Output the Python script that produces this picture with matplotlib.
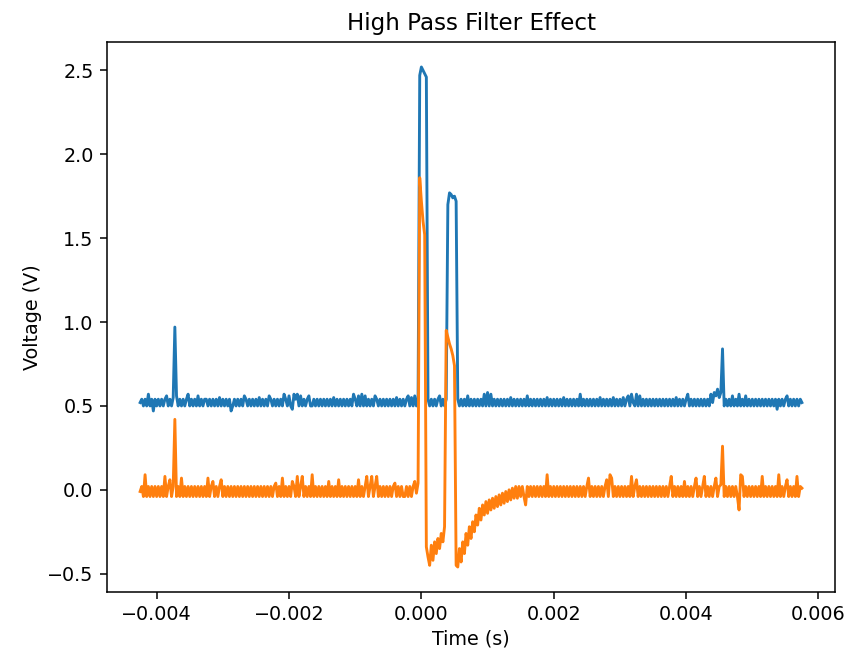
#!/usr/bin/env python3
# High pass filter effect: scope capture of input (blue) and filtered
# output (orange), both sampled every 25 us.

import matplotlib
matplotlib.use("Agg")
from matplotlib import pyplot as plt
import numpy as np

# sample clock of the capture
T_START = -0.00425
T_STEP = 0.000025

# input signal (V), one value per sample
INPUT_V = [
    0.52, 0.54, 0.50, 0.54, 0.50, 0.57, 0.50, 0.54, 0.47, 0.54, 0.50, 0.54, 0.50, 0.54, 0.50, 0.54, 0.56, 0.50, 0.54, 0.50,
    0.55, 0.97, 0.56, 0.50, 0.54, 0.50, 0.54, 0.50, 0.54, 0.57, 0.50, 0.54, 0.50, 0.54, 0.50, 0.56, 0.50, 0.54, 0.50, 0.54,
    0.54, 0.50, 0.54, 0.50, 0.54, 0.50, 0.54, 0.50, 0.55, 0.50, 0.54, 0.50, 0.54, 0.50, 0.54, 0.47, 0.50, 0.54, 0.50, 0.54,
    0.50, 0.54, 0.50, 0.56, 0.54, 0.50, 0.54, 0.50, 0.54, 0.50, 0.54, 0.50, 0.55, 0.50, 0.54, 0.50, 0.54, 0.50, 0.56, 0.54,
    0.50, 0.54, 0.50, 0.54, 0.50, 0.54, 0.50, 0.57, 0.54, 0.50, 0.56, 0.50, 0.48, 0.57, 0.54, 0.57, 0.50, 0.56, 0.50, 0.54,
    0.50, 0.54, 0.56, 0.50, 0.50, 0.54, 0.50, 0.54, 0.50, 0.54, 0.50, 0.54, 0.50, 0.54, 0.50, 0.54, 0.50, 0.55, 0.50, 0.54,
    0.50, 0.54, 0.50, 0.54, 0.50, 0.54, 0.50, 0.54, 0.50, 0.57, 0.54, 0.50, 0.56, 0.50, 0.57, 0.50, 0.56, 0.50, 0.54, 0.50,
    0.54, 0.50, 0.56, 0.54, 0.50, 0.54, 0.50, 0.54, 0.50, 0.54, 0.50, 0.54, 0.50, 0.54, 0.50, 0.55, 0.50, 0.54, 0.50, 0.54,
    0.50, 0.54, 0.56, 0.50, 0.55, 0.50, 0.56, 0.50, 0.54, 2.47, 2.52, 2.50, 2.48, 2.46, 0.54, 0.50, 0.54, 0.50, 0.54, 0.50,
    0.54, 0.56, 0.50, 0.54, 0.50, 0.54, 1.70, 1.77, 1.76, 1.74, 1.75, 1.72, 0.54, 0.50, 0.54, 0.50, 0.54, 0.50, 0.56, 0.50,
    0.54, 0.50, 0.54, 0.50, 0.54, 0.50, 0.54, 0.50, 0.57, 0.50, 0.58, 0.50, 0.57, 0.50, 0.54, 0.50, 0.54, 0.50, 0.54, 0.50,
    0.54, 0.50, 0.54, 0.50, 0.55, 0.50, 0.54, 0.50, 0.54, 0.50, 0.54, 0.50, 0.54, 0.50, 0.56, 0.50, 0.54, 0.50, 0.54, 0.50,
    0.54, 0.50, 0.54, 0.50, 0.54, 0.50, 0.55, 0.50, 0.54, 0.50, 0.54, 0.50, 0.54, 0.50, 0.54, 0.50, 0.55, 0.50, 0.54, 0.50,
    0.54, 0.50, 0.54, 0.50, 0.54, 0.50, 0.57, 0.50, 0.54, 0.50, 0.54, 0.50, 0.54, 0.50, 0.54, 0.50, 0.54, 0.50, 0.55, 0.50,
    0.54, 0.50, 0.54, 0.50, 0.54, 0.50, 0.55, 0.50, 0.54, 0.50, 0.54, 0.50, 0.55, 0.50, 0.54, 0.56, 0.50, 0.57, 0.52, 0.50,
    0.57, 0.50, 0.56, 0.50, 0.54, 0.50, 0.54, 0.50, 0.54, 0.50, 0.54, 0.50, 0.54, 0.50, 0.54, 0.50, 0.54, 0.50, 0.54, 0.50,
    0.54, 0.50, 0.54, 0.50, 0.55, 0.50, 0.54, 0.50, 0.54, 0.50, 0.54, 0.57, 0.50, 0.54, 0.50, 0.54, 0.50, 0.54, 0.50, 0.54,
    0.50, 0.54, 0.50, 0.54, 0.50, 0.57, 0.52, 0.58, 0.56, 0.60, 0.55, 0.58, 0.84, 0.50, 0.54, 0.50, 0.54, 0.50, 0.56, 0.50,
    0.54, 0.50, 0.57, 0.50, 0.54, 0.50, 0.56, 0.50, 0.54, 0.50, 0.54, 0.50, 0.54, 0.50, 0.54, 0.50, 0.54, 0.50, 0.54, 0.50,
    0.54, 0.50, 0.54, 0.50, 0.54, 0.48, 0.54, 0.50, 0.54, 0.50, 0.54, 0.56, 0.50, 0.54, 0.50, 0.54, 0.50, 0.54, 0.50, 0.54,
    0.52,
]

# high-pass filtered output (V)
OUTPUT_V = [
    -0.01, 0.02, -0.04, 0.09, -0.04, 0.02, -0.04, 0.02, -0.04, 0.02, -0.04, 0.02, -0.04, 0.02, -0.04, 0.08, -0.04, 0.02, 0.06, -0.04,
    0.02, 0.42, -0.04, 0.02, -0.04, 0.07, -0.04, 0.02, -0.04, 0.02, -0.04, 0.02, -0.04, 0.02, -0.04, 0.02, -0.04, 0.02, -0.04, 0.02,
    -0.04, 0.07, -0.04, 0.02, 0.05, -0.04, 0.02, -0.04, 0.02, 0.06, -0.04, 0.02, -0.04, 0.02, -0.04, 0.02, -0.04, 0.02, -0.04, 0.02,
    -0.04, 0.02, -0.04, 0.02, -0.04, 0.02, -0.04, 0.02, -0.04, 0.02, -0.04, 0.02, -0.04, 0.02, -0.04, 0.02, -0.04, 0.02, -0.04, 0.02,
    -0.04, 0.02, 0.04, -0.04, 0.02, -0.04, 0.07, -0.04, 0.02, -0.04, 0.02, -0.04, 0.05, 0.02, -0.04, 0.08, -0.04, 0.02, 0.08, -0.04,
    0.02, -0.04, 0.02, -0.04, 0.09, -0.04, 0.02, -0.04, 0.02, -0.04, 0.02, -0.04, 0.02, -0.04, 0.05, -0.04, 0.02, -0.04, 0.02, -0.04,
    0.06, -0.04, 0.02, -0.04, 0.02, -0.04, 0.02, -0.04, 0.02, -0.04, 0.02, -0.04, 0.06, -0.04, 0.02, -0.04, 0.02, 0.08, -0.04, 0.02,
    0.08, -0.04, 0.02, 0.08, -0.04, 0.02, -0.04, 0.02, -0.04, 0.02, -0.04, 0.02, -0.04, 0.02, 0.04, -0.04, 0.02, -0.04, 0.02, -0.04,
    -0.04, 0.02, -0.04, 0.02, -0.04, 0.02, 0.05, -0.02, 0.04, 1.86, 1.72, 1.60, 1.52, -0.34, -0.40, -0.45, -0.33, -0.42, -0.31, -0.38,
    -0.29, -0.35, -0.26, -0.31, -0.22, 0.95, 0.91, 0.87, 0.84, 0.80, 0.74, -0.45, -0.46, -0.35, -0.43, -0.31, -0.38, -0.26, -0.33, -0.22,
    -0.29, -0.19, -0.25, -0.15, -0.21, -0.11, -0.18, -0.09, -0.15, -0.07, -0.14, -0.06, -0.12, -0.05, -0.11, -0.04, -0.10, -0.03, -0.09, -0.02,
    -0.08, -0.01, -0.07, 0.00, -0.06, 0.01, -0.05, 0.02, -0.05, 0.02, -0.04, 0.02, -0.04, -0.09, 0.02, -0.04, 0.02, -0.04, 0.02, -0.04,
    0.02, -0.04, 0.02, -0.04, 0.02, -0.04, 0.09, -0.04, 0.02, -0.04, 0.02, -0.04, 0.02, -0.04, 0.02, -0.04, 0.02, -0.04, 0.02, -0.04,
    0.02, -0.04, 0.02, -0.04, 0.02, -0.04, 0.02, -0.04, 0.02, -0.04, 0.02, 0.07, -0.04, 0.02, -0.04, 0.02, -0.04, 0.02, -0.04, 0.02,
    -0.04, 0.02, 0.06, -0.04, 0.09, 0.07, -0.04, 0.02, -0.04, 0.02, -0.04, 0.02, -0.04, 0.02, -0.04, 0.02, -0.04, 0.08, -0.04, 0.02,
    0.06, -0.04, 0.02, -0.04, 0.02, -0.04, 0.02, -0.04, 0.02, -0.04, 0.02, -0.04, 0.02, -0.04, 0.02, -0.04, 0.02, -0.04, 0.02, -0.04,
    0.02, 0.08, -0.04, 0.02, -0.04, 0.02, -0.04, 0.02, -0.04, 0.05, -0.04, 0.02, -0.04, 0.02, -0.04, 0.02, 0.07, -0.04, 0.02, -0.04,
    0.02, 0.08, -0.04, 0.02, -0.04, 0.02, -0.04, 0.02, 0.07, -0.04, 0.02, 0.03, 0.26, -0.04, 0.02, -0.04, 0.02, -0.04, 0.02, -0.04,
    0.02, -0.04, -0.12, 0.09, 0.08, -0.04, 0.02, -0.04, 0.02, -0.04, 0.02, -0.04, 0.02, -0.04, 0.02, -0.04, 0.08, -0.04, 0.02, -0.04,
    0.02, -0.04, 0.02, -0.04, 0.02, -0.04, 0.09, -0.04, 0.02, -0.04, 0.02, 0.06, -0.04, 0.02, -0.04, 0.02, -0.04, 0.08, -0.04, 0.02,
    0.01,
]

SCALE = 1.38  # reference was rendered at a larger dpi than 100

plt.rcParams.update({
    "font.size": 10 * SCALE,
    "axes.linewidth": 0.8 * SCALE,
    "xtick.major.size": 3.5 * SCALE,
    "ytick.major.size": 3.5 * SCALE,
    "xtick.major.width": 0.8 * SCALE,
    "ytick.major.width": 0.8 * SCALE,
    "xtick.major.pad": 3.5 * SCALE,
    "ytick.major.pad": 3.5 * SCALE,
    "lines.linewidth": 1.5 * SCALE,
    "path.simplify": False,
})


def main():
    assert len(INPUT_V) == len(OUTPUT_V)
    t = T_START + T_STEP * np.arange(len(INPUT_V))

    fig = plt.figure(figsize=(8.48, 6.49), dpi=100)
    ax = fig.add_axes([0.1262, 0.0878, 0.8585, 0.8475])
    ax.plot(t, INPUT_V, color="#1f77b4")
    ax.plot(t, OUTPUT_V, color="#ff7f0e")

    ax.set_title("High Pass Filter Effect", fontsize=12 * SCALE,
                 pad=6 * SCALE)
    ax.set_xlabel("Time (s)")
    ax.set_ylabel("Voltage (V)")

    fig.savefig("out.png", dpi=100)
    plt.close(fig)


if __name__ == "__main__":
    main()
